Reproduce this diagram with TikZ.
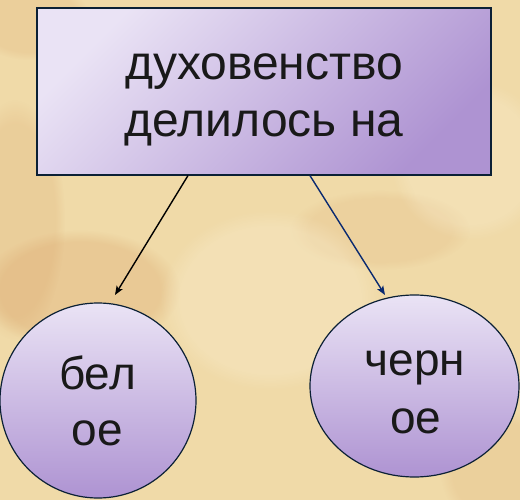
\documentclass[tikz,border=0pt]{standalone}
\usepackage{fontspec}
\setmainfont{Liberation Sans}
\usetikzlibrary{arrows.meta,calc,fadings,shapes.geometric}
\definecolor{bg}{HTML}{F0DAA8}
\definecolor{blot}{HTML}{D9A46A}
\definecolor{lite}{HTML}{FAEED0}
\definecolor{lavL}{HTML}{EAE3F5}
\definecolor{lavD}{HTML}{AE93D2}
\definecolor{edge}{HTML}{0B2035}
\definecolor{navy}{HTML}{0A2A70}
\begin{document}
\begin{tikzpicture}[x=1pt,y=-1pt,
  boxstyle/.style={draw=edge,line width=1.2pt,rectangle,inner sep=0pt,
    top color=lavL,bottom color=lavD,shading angle=45},
  blobstyle/.style={draw=edge,line width=1.2pt,ellipse,inner sep=0pt,
    top color=lavL,bottom color=lavD},
  lbl/.style={inner sep=0pt,anchor=base,text=black!90,font=\fontsize{48}{57}\selectfont},
  slbl/.style={inner sep=0pt,anchor=base,text=black!90,font=\fontsize{46}{56}\selectfont},
  conn/.style={line width=1.4pt,-{Stealth[length=9pt,width=7pt,inset=2pt]}},
  spot/.style={path fading=circle with fuzzy edge 20 percent}]
\useasboundingbox (0,0) rectangle (520,500);
\fill[bg] (0,0) rectangle (520,500);
% parchment blotches
\fill[blot,opacity=0.3,spot] (80,290) ellipse (100 and 60);
\fill[blot,opacity=0.22,spot] (15,220) ellipse (50 and 120);
\fill[blot,opacity=0.2,spot] (30,20) ellipse (60 and 40);
\fill[blot,opacity=0.18,spot] (500,470) ellipse (60 and 60);
\fill[blot,opacity=0.15,spot] (380,230) ellipse (90 and 40);
\fill[lite,opacity=0.35,spot] (270,300) ellipse (110 and 90);
\fill[lite,opacity=0.3,spot] (470,160) ellipse (80 and 80);
% nodes
\node[boxstyle,minimum width=454pt,minimum height=167pt] (top) at (264,91.5) {};
\node[lbl] (t1) at (264,80) {духовенство};
\node[lbl] (t2) at (264,137) {делилось на};
\node[blobstyle,minimum width=196pt,minimum height=195pt] (bel) at (98,400.5) {};
\node[slbl] (b1) at (97.5,389) {бел};
\node[slbl] (b2) at (97.5,445) {ое};
\node[blobstyle,minimum width=209pt,minimum height=182pt] (cher) at (414.5,386) {};
\node[slbl] (c1) at (415,375) {черн};
\node[slbl] (c2) at (416,433) {ое};
% connectors
\coordinate (belTip) at (115,295);
\coordinate (cherTip) at (385,295);
\draw[conn,black] ($(top.south west)!0.333!(top.south east)$) -- (belTip);
\draw[conn,navy] ($(top.south west)!0.601!(top.south east)$) -- (cherTip);
\end{tikzpicture}
\end{document}
